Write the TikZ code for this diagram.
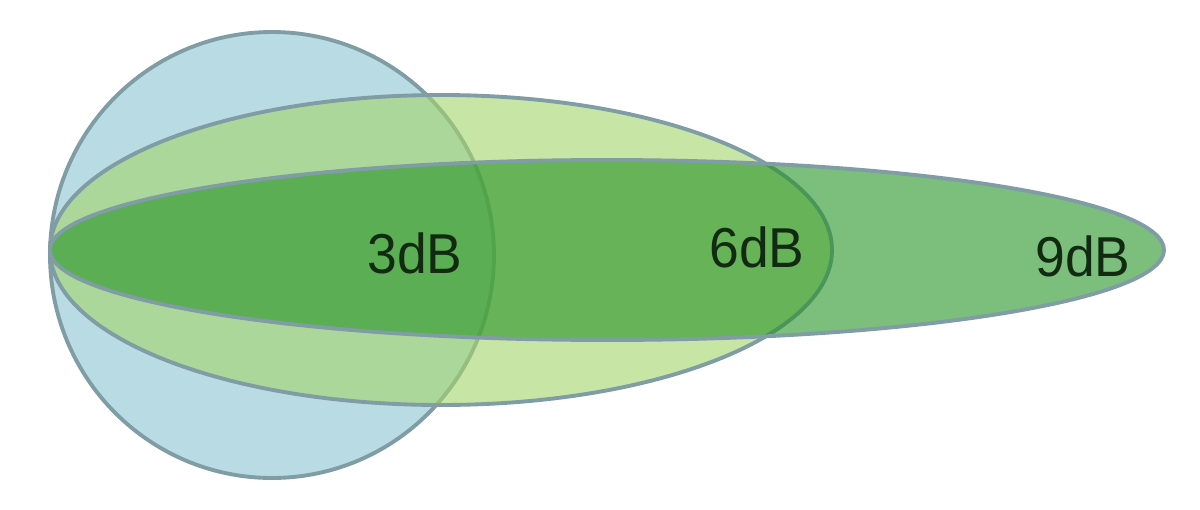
\documentclass[tikz,border=0pt]{standalone}
\usepackage{fontspec}
\setmainfont{Liberation Sans}
\usetikzlibrary{shapes.geometric}
\definecolor{lobeline}{RGB}{128,156,164}
\definecolor{lobeblue}{RGB}{185,220,228}
\definecolor{lobelight}{RGB}{163,213,105}
\definecolor{lobedark}{RGB}{38,147,38}
\definecolor{gaintext}{RGB}{18,42,18}

\begin{document}
\begin{tikzpicture}[
                        lobe/.style={ellipse, draw=lobeline, line width=2.2pt, inner sep=0pt, fill opacity=0.6, draw opacity=1},
                        gain/.style={font=\fontsize{32}{32}\selectfont, text=gaintext, inner sep=0pt, xscale=0.95}
                    ]
                    \useasboundingbox[fill=white] (0,0) rectangle (24,10.18);
                    % Lobes
                    \node [lobe, fill=lobeblue, fill opacity=1, minimum width=8.88cm, minimum height=8.92cm] (lobe3) at (5.44,5.08) {};
                    \node [lobe, fill=lobelight, minimum width=15.64cm, minimum height=6.2cm] (lobe6) at (8.82,5.18) {};
                    \node [lobe, fill=lobedark, minimum width=22.28cm, minimum height=3.6cm] (lobe9) at (12.14,5.18) {};

                    % Labels
                    \node [gain] (gain3) at (8.3,5.12) {3dB};
                    \node [gain] (gain6) at (15.14,5.24) {6dB};
                    \node [gain] (gain9) at (21.66,5.06) {9dB};
                \end{tikzpicture}
\end{document}
